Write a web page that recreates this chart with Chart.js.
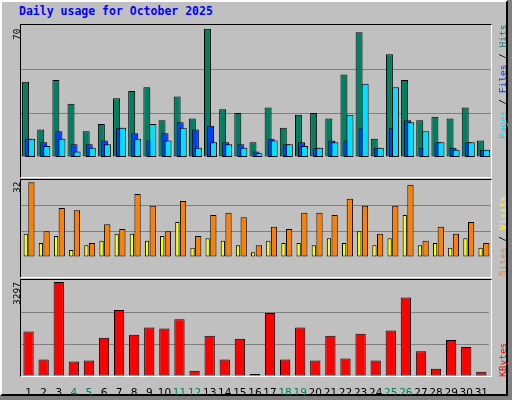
<!DOCTYPE html>
<html><head><meta charset="utf-8">
<script src="https://cdn.jsdelivr.net/npm/chart.js@4"></script>
<style>
body{margin:0;width:512px;height:400px;background:#808080;position:relative;overflow:hidden;font-family:"DejaVu Sans Mono",monospace}
#frame{position:absolute;left:0;top:0;width:504px;height:392px;background:#c0c0c0;border-top:2px solid #fff;border-left:2px solid #fff;border-right:2px solid #000;border-bottom:2px solid #000}
.panel{position:absolute;border-top:1px solid #000;border-left:1px solid #000;border-right:1px solid #fff;border-bottom:1px solid #fff}
canvas{position:absolute}
#title{position:absolute;left:19px;top:4px;color:#0000ff;font-weight:bold;font-size:11.5px}
.rot{position:absolute;transform-origin:0 0;transform:rotate(-90deg);white-space:nowrap;font-size:9.5px;line-height:12px}
</style></head><body>
<div id="frame"></div>
<div id="title">Daily usage for October 2025</div>
<div class="panel" style="left:20px;top:24px;width:470px;height:152px"></div>
<div class="panel" style="left:20px;top:179px;width:470px;height:97px"></div>
<div class="panel" style="left:20px;top:279px;width:470px;height:96px"></div>
<canvas id="c1" style="left:21px;top:25px;width:470px;height:151px"></canvas>
<canvas id="c1b" style="left:21px;top:25px;width:470px;height:151px"></canvas>
<canvas id="c1c" style="left:21px;top:25px;width:470px;height:151px"></canvas>
<canvas id="c2" style="left:21px;top:180px;width:470px;height:96px"></canvas>
<canvas id="c3" style="left:21px;top:280px;width:470px;height:115px"></canvas>
<div class="rot" style="left:11px;top:40px">70</div>
<div class="rot" style="left:11px;top:193px">32</div>
<div class="rot" style="left:11px;top:305px">3297</div>
<div class="rot" style="left:497px;top:139px"><span style="color:#00e0ff">Pages</span> / <span style="color:#0040ff">Files</span> / <span style="color:#008060">Hits</span></div>
<div class="rot" style="left:497px;top:276px"><span style="color:#ff8000">Sites</span> / <span style="color:#ffff00">Visits</span></div>
<div class="rot" style="left:497px;top:377px"><span style="color:#ff0000">KBytes</span></div>
<script>
const days = Array.from({length:31},(_,i)=>String(i+1));
const weekend = ["4","5","11","12","18","19","25","26"];
const hits  = [41,15,42,29,14,18,32,36,38,20,33,21,70,26,24,8,27,16,23,24,21,45,68,10,56,42,20,22,21,27,9];
const files = [10,8,14,7,7,9,16,13,9,13,19,15,17,8,7,3,10,7,8,5,9,9,16,5,16,20,5,8,5,8,4];
const pages = [10,6,10,3,5,7,16,10,18,9,16,5,8,7,5,2,9,7,6,5,8,23,40,5,38,19,14,8,4,8,4];
const sites = [10,6,9,3,5,7,10,10,7,9,15,4,8,7,5,2,7,6,6,5,8,6,11,5,8,18,5,6,4,8,4];
const visits= [32,11,21,20,6,14,12,27,22,11,24,9,18,19,17,5,13,12,19,19,18,25,22,10,22,31,7,13,10,15,6];
const kbytes= [1558,580,3297,507,543,1340,2319,1449,1703,1667,1993,181,1413,580,1304,72,2210,580,1703,543,1413,616,1485,543,1594,2754,870,254,1268,1014,145];
const empty = days.map(()=>null);

function yAxis(max,grid){return {min:0,max:max,ticks:{display:false,stepSize:max/3},border:{display:false},
  grid:{display:grid,color:c=>(c.index===1||c.index===2)?'#808080':'rgba(0,0,0,0)',lineWidth:1,drawTicks:false},
  afterFit:a=>{a.width=0;}};}
function ds(label,data,color,extra){return Object.assign({label,data,backgroundColor:color,borderColor:'#000',borderWidth:1,borderSkipped:false},extra);}
const base={responsive:false,animation:false,devicePixelRatio:1,layout:{padding:0},plugins:{legend:{display:false},tooltip:{enabled:false}}};
function mk(id,w,h,datasets,ymax,showX,cp,bp,grid){
  const cv=document.getElementById(id);cv.width=w;cv.height=h;
  return new Chart(cv,{type:'bar',data:{labels:days,datasets},
    options:Object.assign({},base,{datasets:{bar:{categoryPercentage:cp,barPercentage:bp}},
      scales:{x:{display:showX,grid:{display:false},border:{display:false},
        ticks:{padding:3,maxRotation:0,autoSkip:false,font:{family:'DejaVu Sans',size:10.5},
          color:c=>weekend.includes(days[c.index])?'#008060':'#000'},
        afterFit:a=>{a.height=19;}},y:yAxis(ymax,grid)}})});
}
mk('c1',470,151,[ds('Hits',hits,'#008060'),ds('x',empty,'#0000'),ds('y',empty,'#0000')],72,false,0.6,2.3,true);
mk('c1b',470,151,[ds('x',empty,'#0000'),ds('Files',files,'#0040ff'),ds('y',empty,'#0000')],72,false,0.6,2.3,false);
mk('c1c',470,151,[ds('x',empty,'#0000'),ds('y',empty,'#0000'),ds('Pages',pages,'#00e0ff')],72,false,0.6,2.3,false);
mk('c2',470,96,[ds('Sites',sites,'#ffff00',{categoryPercentage:0.75,barPercentage:0.75}),ds('Visits',visits,'#ff8000',{categoryPercentage:0.75,barPercentage:1.1})],33,false,0.75,1,true);
mk('c3',470,115,[ds('KBytes',kbytes,'#ff0000')],3370,true,0.68,1,true);
</script>
</body></html>
